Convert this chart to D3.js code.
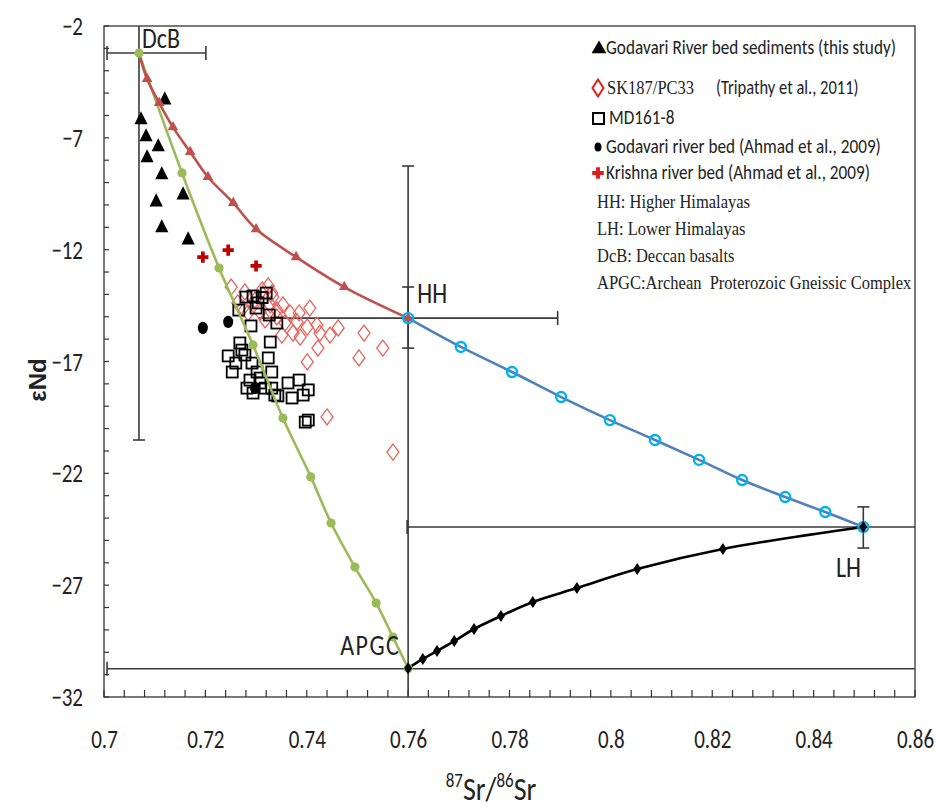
<!DOCTYPE html>
<html><head><meta charset="utf-8">
<script src="https://cdn.jsdelivr.net/npm/d3@7"></script>
<style>
body{margin:0;background:#fff;}
svg{display:block;}
</style></head>
<body>
<svg id="chart" width="941" height="810"></svg>
<script>
// ---------- data ----------
const xTicks = [0.7,0.72,0.74,0.76,0.78,0.8,0.82,0.84,0.86];
const yTicks = [-32,-27,-22,-17,-12,-7,-2];

// Godavari River bed sediments (this study)
const godavariThisStudy = [[0.7120,-5.31],[0.7073,-6.20],[0.7083,-6.96],[0.7107,-7.41],[0.7085,-7.90],[0.7114,-8.66],[0.7103,-9.87],[0.7156,-9.56],[0.7114,-11.03],[0.7166,-11.57]];
// SK187/PC33 (Tripathy et al., 2011)
const sk187 = [[0.7251,-13.67],[0.7264,-14.38],[0.7274,-14.61],[0.7284,-14.83],[0.7298,-14.25],[0.7312,-13.80],[0.7324,-13.62],[0.7333,-14.12],[0.7328,-14.47],[0.7341,-14.70],[0.7331,-13.94],[0.7353,-14.47],[0.7367,-14.83],[0.7385,-14.83],[0.7406,-14.61],[0.7341,-15.01],[0.7357,-15.28],[0.7381,-15.23],[0.7401,-15.46],[0.7420,-15.37],[0.7351,-15.82],[0.7373,-15.73],[0.7387,-15.91],[0.7426,-15.73],[0.7446,-15.82],[0.7462,-15.50],[0.7422,-16.40],[0.7401,-17.02],[0.7503,-16.84],[0.7513,-15.73],[0.7550,-16.40],[0.7440,-19.48],[0.7570,-21.05],[0.7308,-14.79],[0.7278,-13.89],[0.7318,-15.14]];
// MD161-8
const md161 = [[0.7266,-14.70],[0.7280,-14.12],[0.7294,-14.07],[0.7304,-14.38],[0.7320,-13.94],[0.7300,-14.61],[0.7326,-14.92],[0.7290,-15.41],[0.7341,-15.28],[0.7312,-14.14],[0.7268,-16.17],[0.7272,-16.49],[0.7278,-16.71],[0.7245,-16.75],[0.7260,-17.07],[0.7292,-17.07],[0.7324,-16.84],[0.7328,-16.13],[0.7253,-17.47],[0.7302,-17.47],[0.7308,-17.74],[0.7288,-17.83],[0.7331,-17.47],[0.7282,-18.19],[0.7318,-18.19],[0.7331,-18.19],[0.7337,-18.50],[0.7294,-18.41],[0.7308,-17.96],[0.7363,-17.96],[0.7385,-17.83],[0.7403,-18.27],[0.7371,-18.63],[0.7393,-18.50],[0.7343,-18.54],[0.7397,-19.71],[0.7403,-19.62]];
// Godavari river bed (Ahmad et al., 2009)
const godavariAhmad = [[0.7195,-15.50],[0.7245,-15.23],[0.7298,-18.19]];
// Krishna river bed (Ahmad et al., 2009)
const krishnaAhmad = [[0.7195,-12.33],[0.7245,-12.02],[0.7300,-12.73]];

// mixing curves
const mixDcbHH = [[0.7069,-3.21],[0.7085,-4.37],[0.7109,-5.44],[0.7136,-6.52],[0.7170,-7.63],[0.7205,-8.75],[0.7255,-9.91],[0.7300,-11.08],[0.7379,-12.33],[0.7474,-13.67],[0.7600,-15.06]];
const mixDcbAPGC = [[0.7069,-3.21],[0.7154,-8.57],[0.7227,-12.82],[0.7294,-16.26],[0.7353,-19.53],[0.7408,-22.16],[0.7448,-24.22],[0.7495,-26.19],[0.7537,-27.80],[0.7570,-29.32],[0.7600,-30.72]];
const mixHHLH = [[0.7600,-15.06],[0.7704,-16.35],[0.7805,-17.47],[0.7902,-18.59],[0.7998,-19.62],[0.8087,-20.51],[0.8174,-21.40],[0.8259,-22.30],[0.8344,-23.06],[0.8423,-23.73],[0.8498,-24.40]];
const mixAPGCLH = [[0.7600,-30.72],[0.7629,-30.30],[0.7657,-29.94],[0.7691,-29.50],[0.7730,-28.96],[0.7783,-28.38],[0.7846,-27.75],[0.7933,-27.13],[0.8052,-26.28],[0.8221,-25.38],[0.8498,-24.40]];

// end-member error bars: [x1,y1,x2,y2,capStart,capEnd]
const errorBars = [
  [0.7006,-3.21,0.7201,-3.21,true,true],    // DcB horizontal
  [0.7069,-1.5,0.7069,-20.51,false,true],    // DcB vertical
  [0.7600,-8.26,0.7600,-32.2,true,false],    // HH/APGC vertical
  [0.7600,-13.67,0.7600,-16.40,true,true],   // HH vertical (small)
  [0.7305,-15.06,0.7895,-15.06,false,true],  // HH horizontal
  [0.8498,-23.50,0.8498,-25.34,true,true],   // LH vertical
  [0.7598,-24.40,0.8700,-24.40,true,false],  // LH horizontal
  [0.7006,-30.74,0.8700,-30.74,true,false]   // APGC horizontal
];
const endLabels = [["DcB",0.7075,-3.0],["HH",0.7618,-14.4],["LH",0.8444,-26.65],["APGC",0.7466,-30.1]];

const legendSeries = ["Godavari River bed sediments (this study)","SK187/PC33","MD161-8","Godavari river bed (Ahmad et al., 2009)","Krishna river bed (Ahmad et al., 2009)"];
const legendNotes = ["HH: Higher Himalayas","LH: Lower Himalayas","DcB: Deccan basalts","APGC:Archean  Proterozoic Gneissic Complex"];

// ---------- drawing ----------
const svg = d3.select("#chart");
const x = d3.scaleLinear().domain([0.7,0.86]).range([104,915]);
const y = d3.scaleLinear().domain([-32,-2]).range([697,26]);
const SANS = "Carlito, 'Liberation Sans Narrow', 'DejaVu Sans Condensed', 'Open Sans', sans-serif";
const SERIF = "'Liberation Serif', 'DejaVu Serif', serif";
const SY = 1.2; // vertical stretch of the reference's lettering

function stretch(sel, sy){
  sel.each(function(){
    const t = d3.select(this);
    const tx = +t.attr("x")||0, ty = +t.attr("y")||0;
    t.attr("x",null).attr("y",null).attr("transform",`translate(${tx},${ty}) scale(1,${sy})`);
  });
}

svg.append("defs").append("clipPath").attr("id","clip")
  .append("rect").attr("x",104).attr("y",26).attr("width",811).attr("height",671);

// plot frame
svg.append("rect").attr("x",104).attr("y",26).attr("width",811).attr("height",671)
  .attr("fill","none").attr("stroke","#333").attr("stroke-width",1.3);

// minor ticks
const xMinor = d3.range(0.7,0.8601,0.004);
svg.append("g").selectAll("line").data(xMinor).join("line")
  .attr("x1",d=>x(d)).attr("x2",d=>x(d)).attr("y1",697).attr("y2",690)
  .attr("stroke","#333").attr("stroke-width",1.2);
const yMinor = d3.range(-32,-1.99,1);
svg.append("g").selectAll("line").data(yMinor).join("line")
  .attr("x1",104).attr("x2",109).attr("y1",d=>y(d)).attr("y2",d=>y(d))
  .attr("stroke","#333").attr("stroke-width",1.2);

// axes labels via d3 axes
const xAxis = svg.append("g").attr("transform","translate(0,697)")
  .call(d3.axisBottom(x).tickValues(xTicks).tickSize(0).tickPadding(32).tickFormat(d=>String(+d.toFixed(2))));
xAxis.select(".domain").remove();
xAxis.selectAll("text").attr("font-family",SANS).attr("font-size",21).attr("fill","#222").call(stretch,1.28);
const yAxis = svg.append("g").attr("transform","translate(104,0)")
  .call(d3.axisLeft(y).tickValues(yTicks).tickSize(0).tickPadding(21).tickFormat(d3.format("d")));
yAxis.select(".domain").remove();
yAxis.selectAll("text").attr("font-family",SANS).attr("font-size",21).attr("fill","#222").call(stretch,1.28);

// axis titles
const xt = svg.append("text").attr("x",491).attr("y",800).attr("text-anchor","middle")
  .attr("font-family",SANS).attr("font-size",28).attr("fill","#222");
xt.append("tspan").text("87").attr("font-size",17).attr("dy",-11);
xt.append("tspan").text("Sr/").attr("dy",11);
xt.append("tspan").text("86").attr("font-size",17).attr("dy",-11);
xt.append("tspan").text("Sr").attr("dy",11);
xt.call(stretch,1.15);
svg.append("text").attr("transform","translate(46,380) rotate(-90)").attr("text-anchor","middle")
  .attr("font-family","'Liberation Sans', Arial, sans-serif").attr("font-size",24).attr("font-weight","bold")
  .attr("fill","#222").text("εNd");

const plot = svg.append("g").attr("clip-path","url(#clip)");

// error bars
errorBars.forEach(([x1,y1,x2,y2,c1,c2])=>{
  plot.append("line").attr("x1",x(x1)).attr("y1",y(y1)).attr("x2",x(x2)).attr("y2",y(y2))
    .attr("stroke","#3a3a3a").attr("stroke-width",1.6);
  const vertical = x1===x2;
  [[c1,x1,y1],[c2,x2,y2]].forEach(([c,px,py])=>{
    if(!c) return;
    if(vertical) plot.append("line").attr("x1",x(px)-6).attr("x2",x(px)+6).attr("y1",y(py)).attr("y2",y(py)).attr("stroke","#3a3a3a").attr("stroke-width",1.6);
    else plot.append("line").attr("x1",x(px)).attr("x2",x(px)).attr("y1",y(py)-7).attr("y2",y(py)+7).attr("stroke","#3a3a3a").attr("stroke-width",1.6);
  });
});

// data points
const tri = d3.symbol().type(d3.symbolTriangle).size(75);
plot.append("g").selectAll("path").data(godavariThisStudy).join("path")
  .attr("d",tri).attr("transform",d=>`translate(${x(d[0])},${y(d[1])}) scale(1,1.15)`).attr("fill","#000");

const diamondPath = (w,h)=>`M0,${-h/2}L${w/2},0L0,${h/2}L${-w/2},0Z`;
plot.append("g").selectAll("path").data(sk187).join("path")
  .attr("d",diamondPath(12,16)).attr("transform",d=>`translate(${x(d[0])},${y(d[1])})`)
  .attr("fill","none").attr("stroke","#e8625c").attr("stroke-width",1.3);

plot.append("g").selectAll("rect").data(md161).join("rect")
  .attr("x",d=>x(d[0])-5.5).attr("y",d=>y(d[1])-5.5).attr("width",11).attr("height",11)
  .attr("fill","none").attr("stroke","#000").attr("stroke-width",1.8);

plot.append("g").selectAll("ellipse").data(godavariAhmad).join("ellipse")
  .attr("cx",d=>x(d[0])).attr("cy",d=>y(d[1])).attr("rx",5).attr("ry",6.2).attr("fill","#000");

const cross = d3.symbol().type(d3.symbolCross).size(70);
plot.append("g").selectAll("path").data(krishnaAhmad).join("path")
  .attr("d",cross).attr("transform",d=>`translate(${x(d[0])},${y(d[1])})`).attr("fill","#c00000");

// mixing curves
const line = d3.line().x(d=>x(d[0])).y(d=>y(d[1])).curve(d3.curveCatmullRom);
plot.append("path").datum(mixDcbAPGC).attr("d",line).attr("fill","none").attr("stroke","#9bbb59").attr("stroke-width",2.6);
plot.append("path").datum(mixDcbHH).attr("d",line).attr("fill","none").attr("stroke","#c0504d").attr("stroke-width",2.6);
plot.append("path").datum(mixHHLH).attr("d",line).attr("fill","none").attr("stroke","#4f81bd").attr("stroke-width",2.6);
plot.append("path").datum(mixAPGCLH).attr("d",line).attr("fill","none").attr("stroke","#000").attr("stroke-width",2.6);

plot.append("g").selectAll("circle").data(mixDcbAPGC).join("circle")
  .attr("cx",d=>x(d[0])).attr("cy",d=>y(d[1])).attr("r",4.6).attr("fill","#9bbb59");
const triS = d3.symbol().type(d3.symbolTriangle).size(50);
plot.append("g").selectAll("path").data(mixDcbHH.slice(1)).join("path")
  .attr("d",triS).attr("transform",d=>`translate(${x(d[0])},${y(d[1])})`).attr("fill","#c0504d");
plot.append("g").selectAll("circle").data(mixHHLH).join("circle")
  .attr("cx",d=>x(d[0])).attr("cy",d=>y(d[1])).attr("r",5).attr("fill","none").attr("stroke","#00b0f0").attr("stroke-width",2.4);
plot.append("g").selectAll("path").data(mixAPGCLH).join("path")
  .attr("d",diamondPath(8,12)).attr("transform",d=>`translate(${x(d[0])},${y(d[1])})`).attr("fill","#000");

// end-member labels
svg.append("g").selectAll("text").data(endLabels).join("text")
  .attr("x",d=>x(d[1])).attr("y",d=>y(d[2]))
  .attr("font-family",SANS).attr("font-size",24).attr("fill","#222").text(d=>d[0])
  .attr("letter-spacing",d=>d[0]==="APGC"?1.5:0)
  .call(stretch,1.22);

// legend
const lg = svg.append("g");
const ly0 = 48, ldy = [0,40,70,99,125];
const lx = 606;
legendSeries.forEach((t,i)=>{
  const yy = ly0 + ldy[i] + 6;
  if(i===1){
    lg.append("text").attr("x",lx+1).attr("y",yy).attr("font-family",SERIF).attr("font-size",16.5).attr("fill","#222").text(t).call(stretch,SY);
    lg.append("text").attr("x",716).attr("y",yy).attr("font-family",SANS).attr("font-size",16.5).attr("fill","#222").text("(Tripathy et al., 2011)").call(stretch,SY);
  } else {
    lg.append("text").attr("x",lx+(i===2?3:0)).attr("y",yy).attr("font-family",SANS).attr("font-size",17.2).attr("fill","#222").text(t).call(stretch,SY);
  }
});
lg.append("path").attr("d",d3.symbol().type(d3.symbolTriangle).size(95)).attr("transform",`translate(599,${ly0+1})`).attr("fill","#000");
lg.append("path").attr("d",diamondPath(11,17)).attr("transform",`translate(598,${ly0+ldy[1]})`).attr("fill","none").attr("stroke","#e31a1c").attr("stroke-width",2);
lg.append("rect").attr("x",593).attr("y",ly0+ldy[2]-5).attr("width",11).attr("height",11).attr("fill","none").attr("stroke","#000").attr("stroke-width",2);
lg.append("ellipse").attr("cx",598).attr("cy",ly0+ldy[3]).attr("rx",3.5).attr("ry",4.5).attr("fill","#000");
lg.append("path").attr("d",d3.symbol().type(d3.symbolCross).size(75)).attr("transform",`translate(598,${ly0+ldy[4]})`).attr("fill","#e31a1c");

legendNotes.forEach((t,i)=>{
  lg.append("text").attr("x",597).attr("y",208+i*27).attr("font-family",SERIF).attr("font-size",16.5)
    .attr("fill","#222").style("white-space","pre").text(t).call(stretch,SY);
});
</script>
</body></html>
